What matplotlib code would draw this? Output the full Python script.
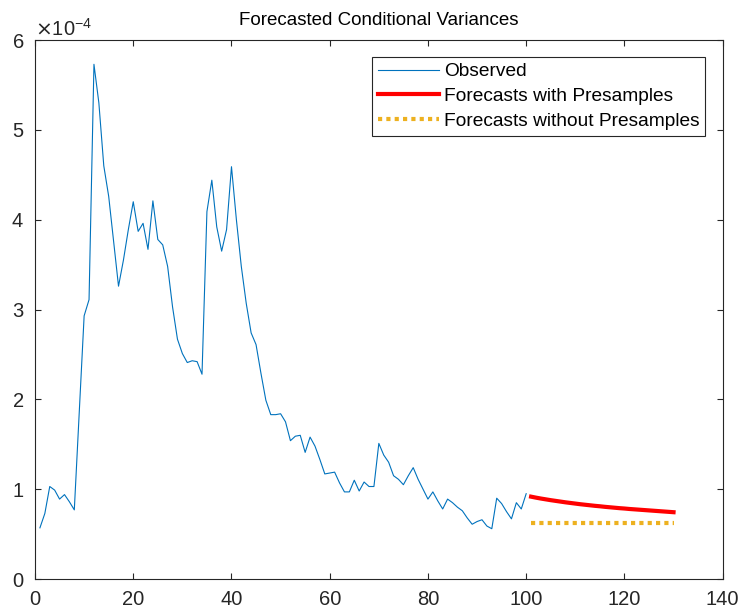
import numpy as np
import matplotlib.pyplot as plt

# Observed conditional variances (units of 1e-4), t = 1..100
obs = np.array([
    0.57, 0.73, 1.03, 0.99, 0.89, 0.94, 0.86, 0.77, 1.85, 2.93,
    3.11, 5.73, 5.30, 4.60, 4.26, 3.76, 3.26, 3.55, 3.89, 4.20,
    3.87, 3.96, 3.67, 4.21, 3.78, 3.72, 3.48, 3.03, 2.67, 2.51,
    2.41, 2.43, 2.42, 2.28, 4.09, 4.44, 3.92, 3.65, 3.89, 4.59,
    4.00, 3.48, 3.07, 2.74, 2.61, 2.29, 1.99, 1.83, 1.83, 1.84,
    1.75, 1.54, 1.59, 1.60, 1.41, 1.58, 1.48, 1.33, 1.17, 1.18,
    1.19, 1.07, 0.97, 0.97, 1.10, 0.98, 1.08, 1.03, 1.03, 1.51,
    1.38, 1.30, 1.15, 1.11, 1.05, 1.15, 1.24, 1.11, 1.00, 0.89,
    0.97, 0.87, 0.78, 0.89, 0.85, 0.80, 0.76, 0.68, 0.61, 0.64,
    0.66, 0.59, 0.56, 0.90, 0.84, 0.75, 0.67, 0.85, 0.78, 0.95,
]) * 1e-4

# Forecasts, t = 101..130
fc_pre = np.array([
    0.917, 0.906, 0.896, 0.887, 0.878, 0.870, 0.862, 0.854, 0.847, 0.840,
    0.833, 0.827, 0.821, 0.815, 0.810, 0.804, 0.799, 0.794, 0.789, 0.785,
    0.780, 0.776, 0.772, 0.768, 0.764, 0.760, 0.756, 0.752, 0.748, 0.744,
]) * 1e-4
fc_nopre = np.array([0.62] * 30) * 1e-4

t_obs = np.arange(1, len(obs) + 1)
t_fc = np.arange(len(obs) + 1, len(obs) + len(fc_pre) + 1)

plt.rcParams['font.family'] = ['Liberation Sans', 'DejaVu Sans']

fig = plt.figure(figsize=(7.45, 6.16), dpi=100)
ax = fig.add_axes([0.047, 0.060, 0.923, 0.875])

ax.plot(t_obs, obs, color='#0072BD', linewidth=0.8, label='Observed')
ax.plot(t_fc, fc_pre, color='red', linewidth=3, label='Forecasts with Presamples')
ax.plot(t_fc, fc_nopre, color='#EDB120', linewidth=3, linestyle=(0, (1, 1)),
        label='Forecasts without Presamples')

ax.set_xlim(0, 140)
ax.set_ylim(0, 6e-4)
ax.set_xticks(np.arange(0, 141, 20))
ax.set_yticks(np.arange(0, 6.01e-4, 1e-4))
ax.ticklabel_format(axis='y', style='sci', scilimits=(-4, -4), useMathText=True)
ax.yaxis.get_offset_text().set_fontsize(14.5)
ax.yaxis.get_offset_text().set_color('#404040')

ax.tick_params(direction='in', top=True, right=True, labelsize=14.5,
               colors='#262626', length=4, width=0.8, pad=8)
for s in ax.spines.values():
    s.set_color('#262626')
    s.set_linewidth(0.8)

ax.set_title('Forecasted Conditional Variances', fontsize=13.5, color='black', pad=11)

leg = ax.legend(loc='upper right', fontsize=13.8, handlelength=3.2, fancybox=False,
                framealpha=1, edgecolor='#262626', borderaxespad=0.9,
                labelspacing=0.38, handletextpad=0.25, borderpad=0.3)
leg.get_frame().set_linewidth(0.8)

fig.savefig('out.png', dpi=100)
